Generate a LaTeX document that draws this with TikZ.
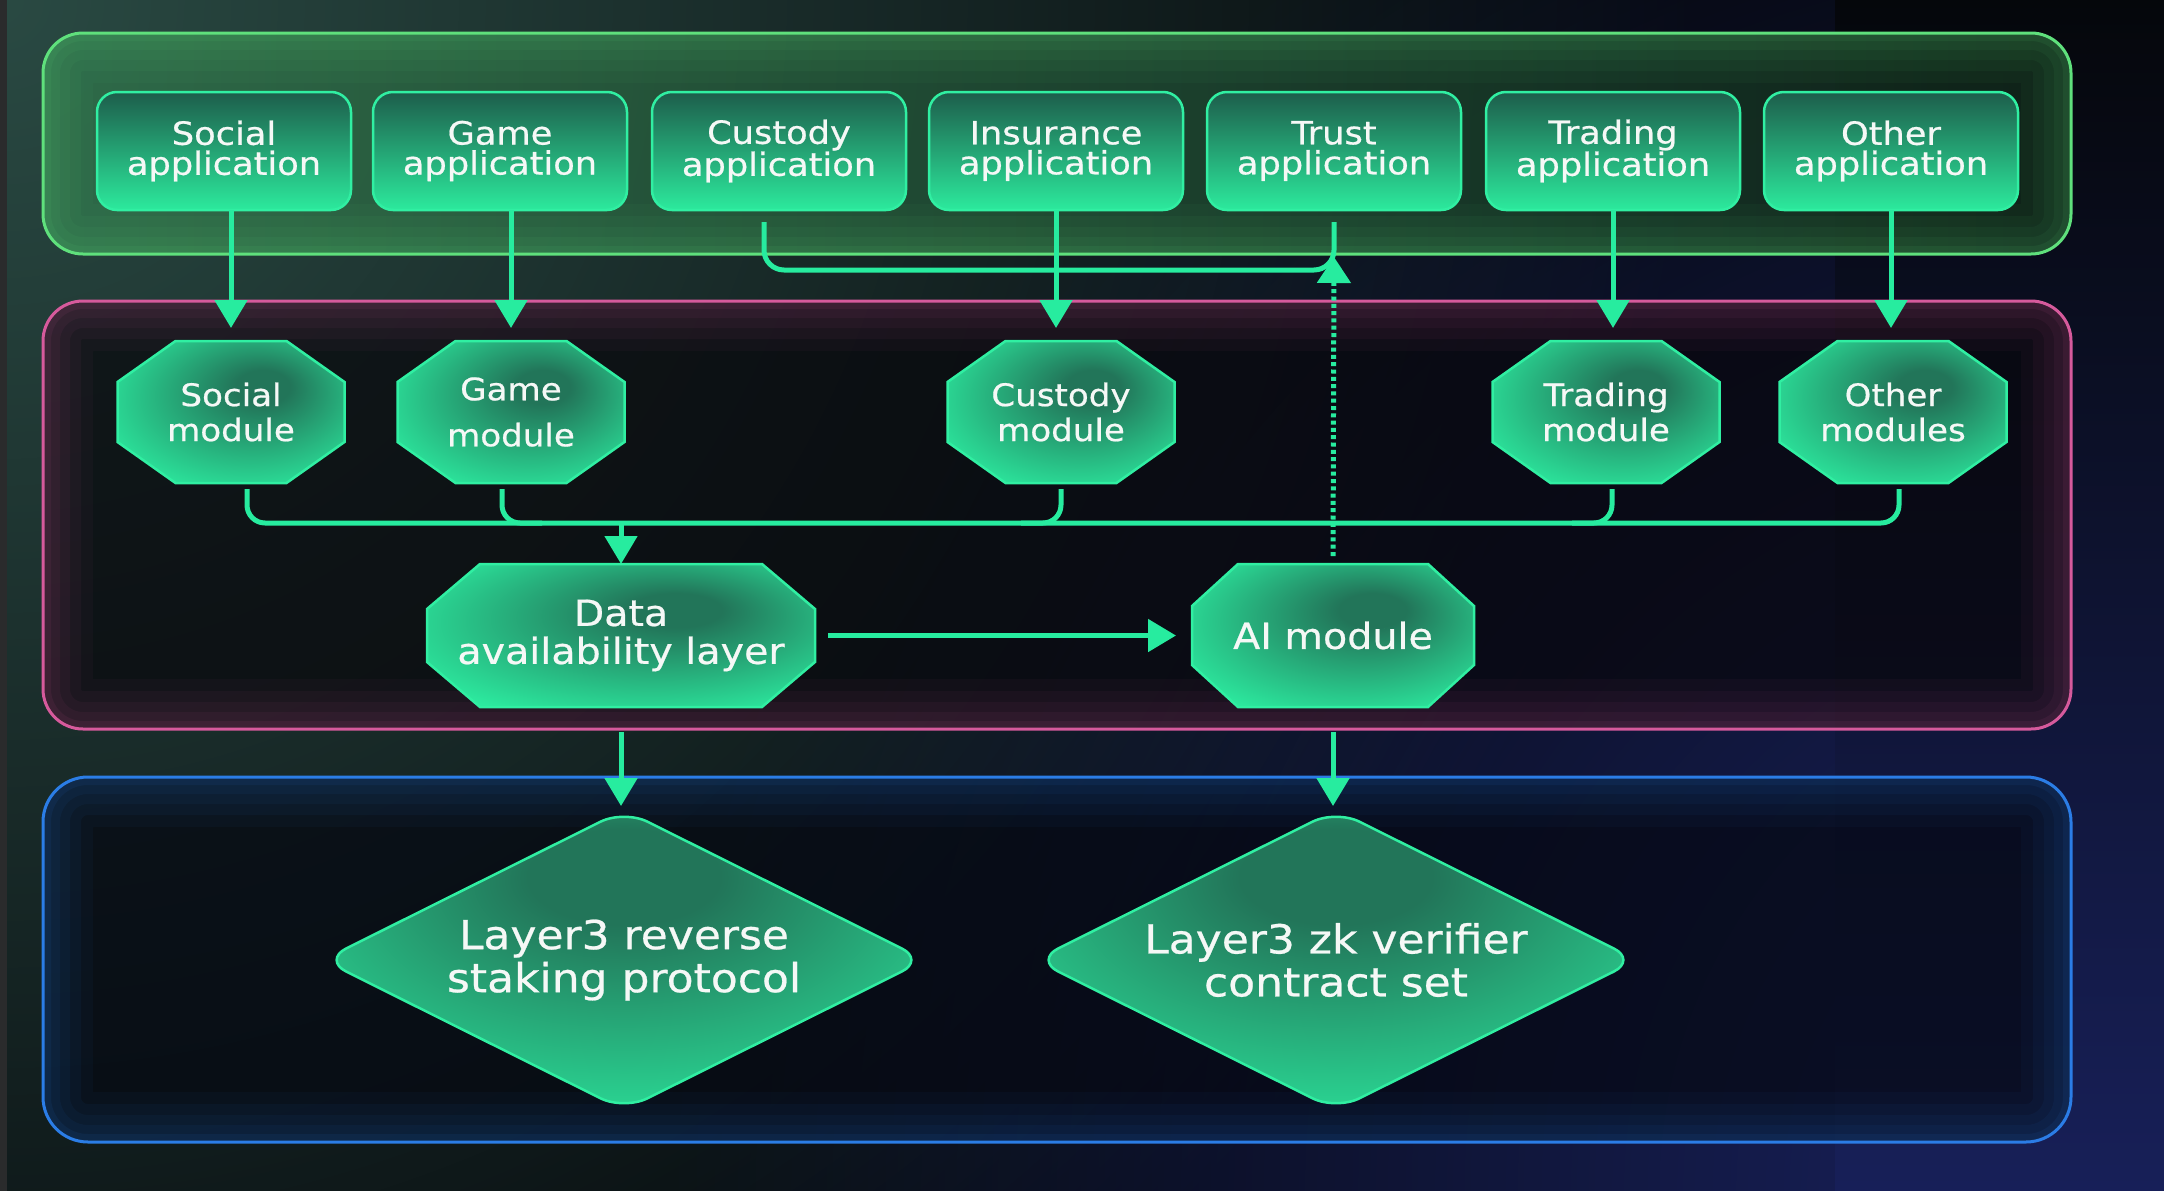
\documentclass[tikz,border=0pt]{standalone}
\usepackage{fontspec}
\setmainfont[FakeStretch=1.1, FakeBold=0.6]{DejaVu Sans}
\usetikzlibrary{arrows.meta,calc,fadings}

\definecolor{bgblack}{HTML}{05070B}
\definecolor{bgteal}{HTML}{2A4A43}
\definecolor{bgnavy}{HTML}{1A2362}
\definecolor{flow}{HTML}{27EC9F}
\definecolor{gdark}{HTML}{227559}
\definecolor{gbright}{HTML}{2CEA9F}
\definecolor{gedge}{HTML}{30EFA2}
\definecolor{appTop}{HTML}{1D5D4B}
\definecolor{appMid}{HTML}{25A97A}
\definecolor{appBot}{HTML}{2CEA9D}
\definecolor{txt}{HTML}{F5F8F6}
\definecolor{gpL}{HTML}{2F6E4A}
\definecolor{gpM}{HTML}{183524}
\definecolor{gpR}{HTML}{0F2419}
\definecolor{gpB}{HTML}{5FE07C}
\definecolor{pkfill}{HTML}{08070C}
\definecolor{ppB}{HTML}{D65A9C}
\definecolor{bfill}{HTML}{050812}
\definecolor{bpB}{HTML}{2B7DE6}
\definecolor{leftstrip}{HTML}{2A2B2C}

\tikzfading[name=radfade, inner color=transparent!0, outer color=transparent!100]

\pgfdeclarelayer{back}
\pgfdeclarelayer{shapes}
\pgfsetlayers{back,shapes,main}

\pgfdeclareradialshading{glowshade}{\pgfpoint{8bp}{10bp}}{color(0bp)=(gdark); color(6bp)=(gdark); color(34bp)=(gbright); color(50bp)=(gbright)}
\pgfdeclareradialshading{diashade}{\pgfpoint{0bp}{16bp}}{color(0bp)=(gdark); color(8bp)=(gdark); color(38bp)=(gbright); color(60bp)=(gbright)}

\newcommand\octshape[3]{%
  \begin{pgfonlayer}{shapes}
  \path[octpath] ($(#1.north west)+(#2,0)$) -- ($(#1.north east)+(-#2,0)$)
     -- ($(#1.north east)+(0,#3)$) -- ($(#1.south east)+(0,-#3)$)
     -- ($(#1.south east)+(-#2,0)$) -- ($(#1.south west)+(#2,0)$)
     -- ($(#1.south west)+(0,-#3)$) -- ($(#1.north west)+(0,#3)$) -- cycle;
  \end{pgfonlayer}}
\newcommand\diashape[1]{%
  \begin{pgfonlayer}{shapes}
  \path[diapath, rounded corners=26pt] ($(#1.north)!0.5!(#1.west)$) -- (#1.north) -- (#1.east) -- (#1.south) -- (#1.west) -- cycle;
  \end{pgfonlayer}}
% panel glow: #1 colour, #2 radius, #3 one corner, #4 opposite corner
\newcommand\panelglow[4]{%
  \begin{scope}
    \clip[rounded corners=#2] #3 rectangle #4;
    \foreach \w/\o in {100/0.04, 76/0.05, 54/0.05, 34/0.06, 16/0.08}
      {\draw[#1, opacity=\o, line width=\w pt, rounded corners=#2] #3 rectangle #4;}
  \end{scope}}

\tikzset{
  conn/.style={draw=flow, line width=5pt},
  arr/.style={conn, -{Triangle[length=28pt,width=32pt]}},
  dotconn/.style={draw=flow, line width=5pt, dash pattern=on 4pt off 3.3pt},
  appbox/.style={rectangle, rounded corners=20pt, minimum width=254pt, minimum height=118pt,
     inner sep=0pt, outer sep=0pt, draw=gedge, line width=2.5pt,
     top color=appTop, middle color=appMid, bottom color=appBot,
     text=txt, align=center, font=\fontsize{32}{30}\selectfont},
  octnode/.style={rectangle, inner sep=0pt, outer sep=0pt, text=txt, align=center},
  modnode/.style={octnode, minimum width=227pt, minimum height=142pt, font=\fontsize{31}{35}\selectfont},
  octpath/.style={shade, shading=glowshade, draw=gedge, line width=2.5pt},
  diapath/.style={shade, shading=diashade, draw=gedge, line width=2.5pt},
}

\begin{document}
\begin{tikzpicture}[x=1pt, y=-1pt]
\useasboundingbox (0,0) rectangle (2164,1191);

\begin{pgfonlayer}{back}
  % background
  \fill[bgblack] (0,0) rectangle (2164,1191);
  \begin{scope}
    \clip (0,0) rectangle (2164,1191);
    \fill[bgteal, path fading=radfade] (0,0) circle (1700pt);
    \fill[bgnavy, path fading=radfade] (2164,1191) circle (1500pt);
  \end{scope}
  \shade[top color=bgblack, bottom color=bgnavy!90!black] (1835,0) rectangle (2164,1191);
  \fill[leftstrip] (0,0) rectangle (7,1191);

  % green panel
  \shade[rounded corners=40pt, left color=gpL, middle color=gpM, right color=gpR, opacity=0.9] (43,33) rectangle (2071,254);
  \panelglow{gpB}{40pt}{(43,33)}{(2071,254)}
  \draw[gpB, line width=3pt, rounded corners=40pt] (43,33) rectangle (2071,254);

  % pink panel
  \fill[pkfill, fill opacity=0.7, rounded corners=40pt] (43,301) rectangle (2071,729);
  \panelglow{ppB}{40pt}{(43,301)}{(2071,729)}
  \draw[ppB, line width=3pt, rounded corners=40pt] (43,301) rectangle (2071,729);

  % blue panel
  \fill[bfill, fill opacity=0.7, rounded corners=45pt] (43,777) rectangle (2071,1142);
  \panelglow{bpB}{45pt}{(43,777)}{(2071,1142)}
  \draw[bpB, line width=3pt, rounded corners=45pt] (43,777) rectangle (2071,1142);
\end{pgfonlayer}

% applications
\node[appbox] (sa)  at (224,151)  {Social\\application};
\node[appbox] (ga)  at (500,151)  {Game\\application};
\node[appbox] (ca)  at (779,151)  {Custody\\application};
\node[appbox] (ia)  at (1056,151) {Insurance\\application};
\node[appbox] (ta)  at (1334,151) {Trust\\application};
\node[appbox] (tra) at (1613,151) {Trading\\application};
\node[appbox] (oa)  at (1891,151) {Other\\application};

% modules
\node[modnode] (sm) at (231,412) {Social\\module};
\node[modnode, font=\fontsize{31}{46}\selectfont] (gm) at (511,412) {Game\\module};
\node[modnode] (cm) at (1061,412) {Custody\\module};
\node[modnode] (tm) at (1606,412) {Trading\\module};
\node[modnode] (om) at (1893,412) {Other\\modules};
\octshape{sm}{58}{41}
\octshape{gm}{58}{41}
\octshape{cm}{58}{41}
\octshape{tm}{58}{41}
\octshape{om}{58}{41}

% DA and AI
\node[octnode, minimum width=388pt, minimum height=143pt, font=\fontsize{36}{38}\selectfont] (da) at (621,635.5) {Data\\availability layer};
\node[octnode, minimum width=282pt, minimum height=143pt, font=\fontsize{36}{38}\selectfont] (ai) at (1333,635.5) {AI module};
\octshape{da}{53}{45}
\octshape{ai}{46}{42}

% diamonds
\node[octnode, minimum width=602pt, minimum height=300pt, font=\fontsize{40}{43}\selectfont] (rev) at (624,960) {Layer3 reverse\\staking protocol};
\node[octnode, minimum width=602pt, minimum height=300pt, font=\fontsize{40}{43}\selectfont] (zk) at (1336,960) {Layer3 zk verifier\\contract set};
\diashape{rev}
\diashape{zk}

% application -> module arrows
\draw[arr, shorten >=13pt] (sa.south -| sm.north) -- (sm.north);
\draw[arr, shorten >=13pt] (ga.south -| gm.north) -- (gm.north);
\draw[arr, shorten >=13pt] (ia.south) -- (ia.south |- cm.north);
\draw[arr, shorten >=13pt] (tra.south) -- (tra.south |- tm.north);
\draw[arr, shorten >=13pt] (oa.south) -- (oa.south |- om.north);

% custody -> trust bracket
\coordinate (cb) at ([xshift=-15pt, yshift=-12pt]ca.south);
\coordinate (tb) at ([yshift=-12pt]ta.south);
\draw[conn, rounded corners=20pt] (cb) |- ($(tb)+(0,48)$) -- (tb);

% AI -> trust dotted arrow
\draw[dotconn, -{Triangle[length=26pt,width=33pt]}, shorten <=8pt] (ai.north) -- ($(tb)+(0,35)$);

% module bus
\coordinate (bs) at ([xshift=16pt, yshift=-6pt]sm.south);
\coordinate (bo) at ([xshift=6pt, yshift=-6pt]om.south);
\coordinate (bg) at ([xshift=-9pt, yshift=-6pt]gm.south);
\coordinate (bc) at ([yshift=-6pt]cm.south);
\coordinate (bt) at ([xshift=6pt, yshift=-6pt]tm.south);
\coordinate (busy) at ($(bs)+(0,34)$);
\draw[conn, rounded corners=18pt] (bs) |- ($(bo)+(0,34)$) -- (bo);
\draw[conn, rounded corners=18pt] (bg) |- ($(bg)+(40,34)$);
\draw[conn, rounded corners=18pt] (bc) |- ($(bc)+(-40,34)$);
\draw[conn, rounded corners=18pt] (bt) |- ($(bt)+(-40,34)$);
\draw[arr] (busy -| da.north) -- (da.north);

% DA -> AI
\draw[arr, shorten <=13pt, shorten >=16pt] (da.east) -- (ai.west);

% to diamonds
\draw[arr, shorten <=25pt, shorten >=4pt] (da.south) -- (da.south |- rev.north);
\draw[arr, shorten <=25pt, shorten >=4pt] (ai.south) -- (ai.south |- zk.north);
\end{tikzpicture}
\end{document}
